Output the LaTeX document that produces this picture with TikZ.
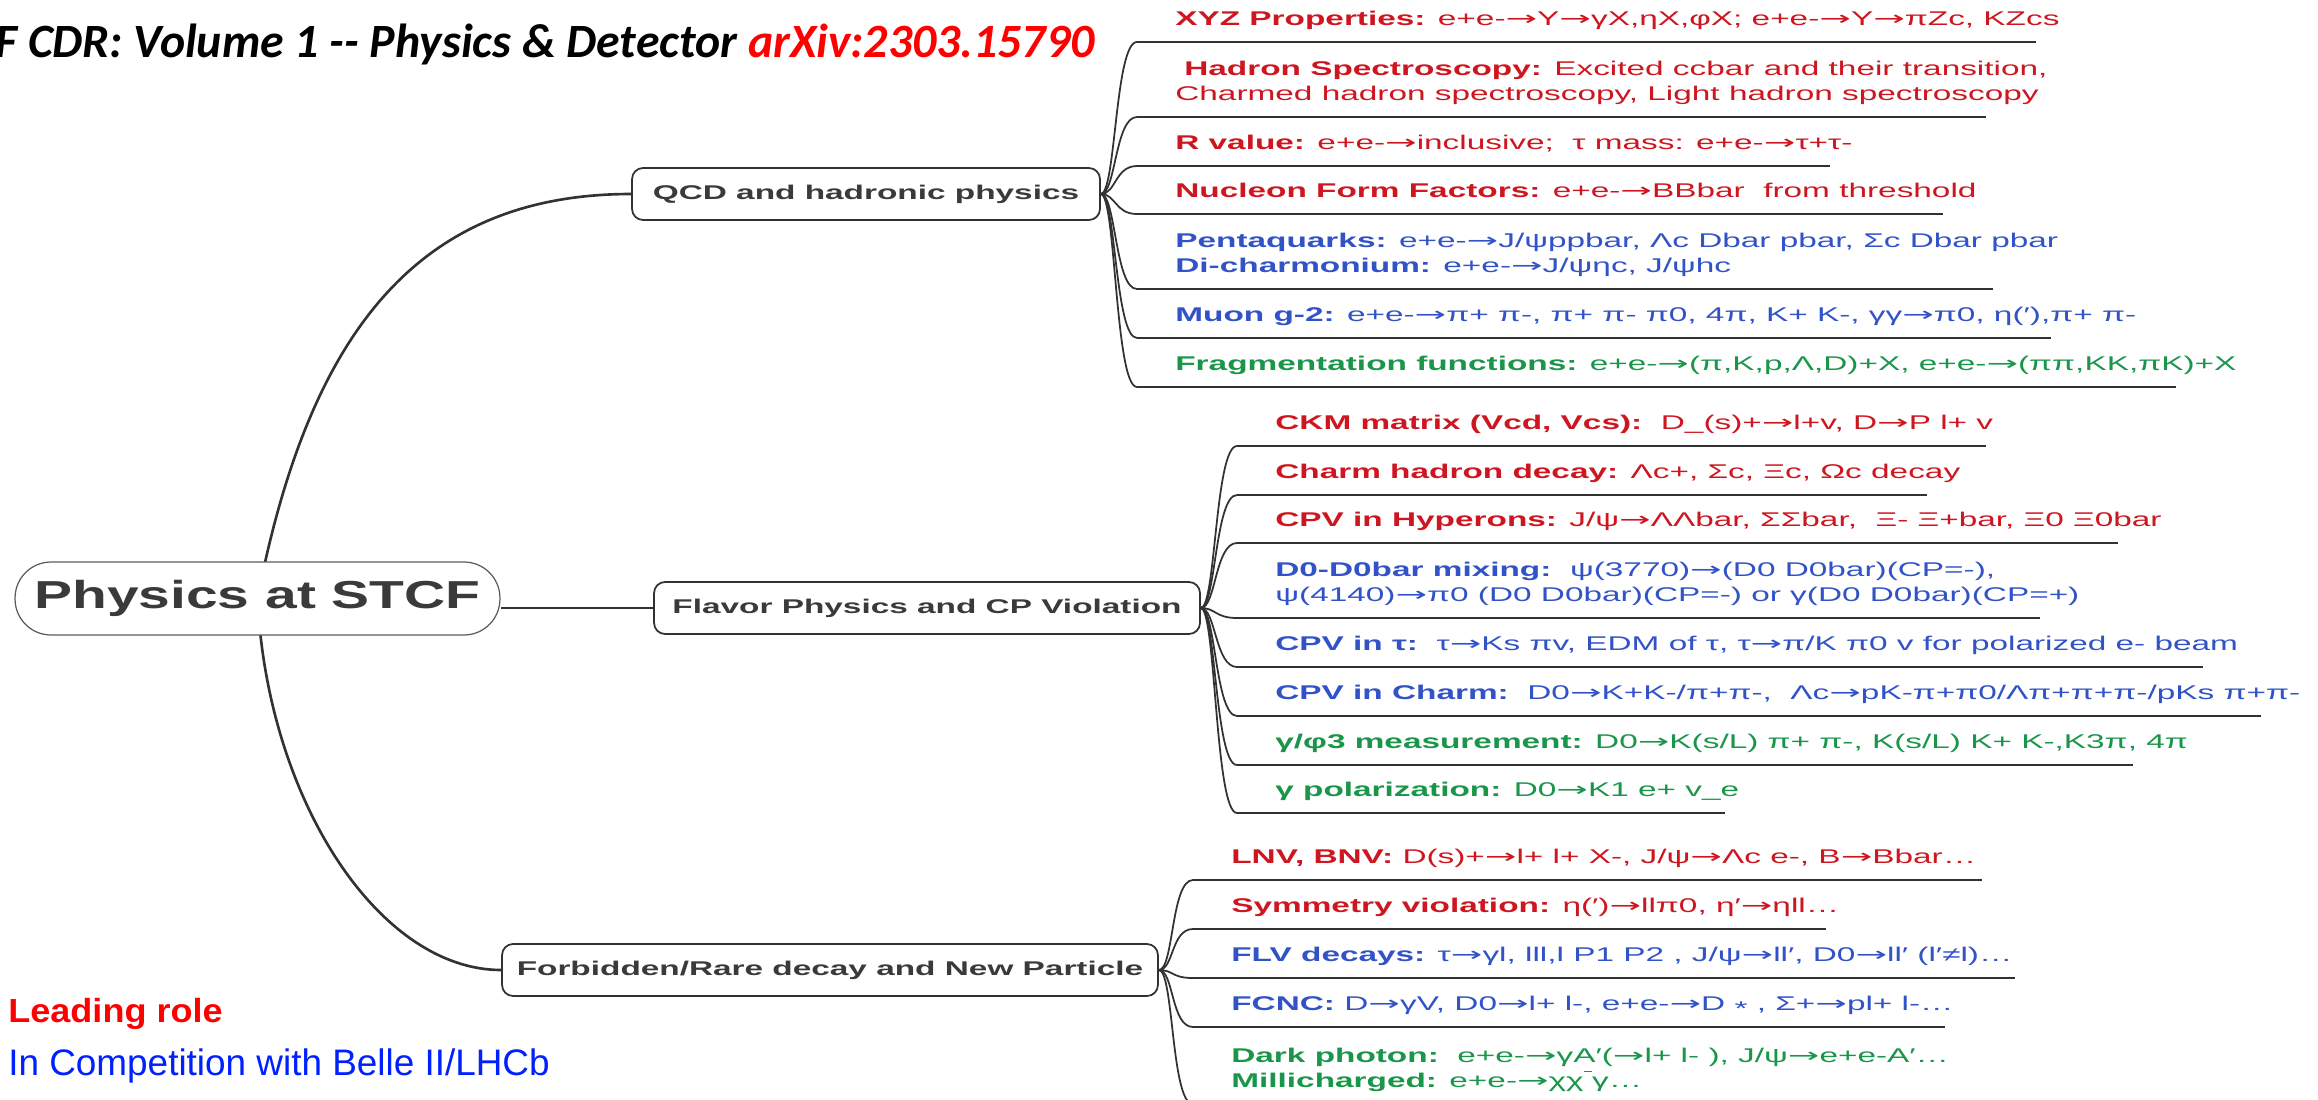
\documentclass[tikz,border=0pt]{standalone}
\usepackage{fontspec}
\usepackage{newunicodechar}
\setmainfont{Liberation Sans}
\newfontfamily\leaffont[FakeStretch=1.68]{Liberation Sans}
\newfontfamily\arrowfont[FakeStretch=1.9]{DejaVu Sans}
\newfontfamily\rootfont[FakeStretch=1.46]{Liberation Sans}
\newfontfamily\notefont[FakeStretch=1.08]{Liberation Sans}
\newfontfamily\titlefont{Carlito}
\newunicodechar{→}{{\arrowfont\char"2192\relax}}
\definecolor{leafred}{RGB}{206,22,32}
\definecolor{leafblue}{RGB}{50,82,200}
\definecolor{leafgreen}{RGB}{26,150,74}
\definecolor{linegray}{RGB}{50,50,50}
\definecolor{topicgray}{RGB}{58,58,58}
\definecolor{slidered}{RGB}{255,0,0}
\definecolor{slideblue}{RGB}{0,32,255}
\usetikzlibrary{
  calc,
  backgrounds
}
\tikzset{
  rootbox/.style={draw=linegray!80, line width=0.7pt, fill=white,
    rounded corners=0.72cm, minimum width=9.7cm, minimum height=1.46cm,
    inner sep=0pt, text=topicgray,
    font=\rootfont\bfseries\fontsize{22.2}{26}\selectfont},
  topicbox/.style={draw=linegray, line width=1pt, fill=white,
    rounded corners=0.22cm, minimum height=1.04cm,
    inner sep=0pt, text=topicgray,
    font=\leaffont\bfseries\fontsize{11.3}{14.2}\selectfont},
  leaftext/.style={anchor=south west, inner sep=0pt, text depth=0pt,
    align=left, font=\leaffont\fontsize{11.3}{14.2}\selectfont},
  stem/.style={draw=linegray, line width=1.5pt},
  twig/.style={draw=linegray, line width=1pt},
}
% leaf: name, line start x, line y, line end x, colour, text
\newcommand{\topicleaf}[6]{%
  \coordinate (#1-l) at (#2,#3);
  \coordinate (#1-r) at (#4,#3);
  \node[leaftext, text=#5] (#1) at ($(#1-l)+(38,-16)$) {#6};
  \draw[twig] (#1-l) -- (#1-r);
}

\begin{document}
\begin{tikzpicture}[x=0.02cm, y=-0.02cm]
  \useasboundingbox (0,0) rectangle (2318,1099);

  % Title and legend
  \node[anchor=base west, inner sep=0pt,
        font=\titlefont\bfseries\itshape\fontsize{27.2}{31}\selectfont] (title) at (-5,57)
    {F CDR: Volume 1 -{}- Physics \& Detector \textcolor{slidered}{arXiv:2303.15790}};
  \node[anchor=base west, inner sep=0pt, text=slidered,
        font=\notefont\bfseries\fontsize{19}{22}\selectfont] (lead) at (8,1022) {Leading role};
  \node[anchor=base west, inner sep=0pt, text=slideblue,
        font=\fontsize{21}{25}\selectfont] (compete) at (8,1075) {In Competition with Belle II/LHCb};

  % Central topic
  \node[rootbox] (root) at (257.5,598.5) {Physics at STCF};

  % Three main topics
  \node[topicbox, minimum width=9.36cm] (qcd) at (866,194) {QCD and hadronic physics};
  \node[topicbox, minimum width=10.92cm] (flavor) at (927,608) {Flavor Physics and CP Violation};
  \node[topicbox, minimum width=13.12cm] (rare) at (830,970) {Forbidden/Rare decay and New Particle};

  % QCD leaves
  \topicleaf{xyz}{1137}{42}{2036}{leafred}{\textbf{XYZ Properties:} e+e-→Y→γX,ηX,φX; e+e-→Y→πZc, KZcs}
  \topicleaf{hadron}{1137}{117}{1986}{leafred}{\hspace*{0.45em}\textbf{Hadron Spectroscopy:} Excited ccbar and their transition,\\Charmed hadron spectroscopy, Light hadron spectroscopy}
  \topicleaf{rval}{1137}{166}{1830}{leafred}{\textbf{R value:} e+e-→inclusive;\ \ τ mass: e+e-→τ+τ-}
  \topicleaf{nucleon}{1137}{214}{1943}{leafred}{\textbf{Nucleon Form Factors:} e+e-→BBbar\ \ from threshold}
  \topicleaf{penta}{1137}{289}{1993}{leafblue}{\textbf{Pentaquarks:} e+e-→J/ψppbar, Λc Dbar pbar, Σc Dbar pbar\\\textbf{Di-charmonium:} e+e-→J/ψηc, J/ψhc}
  \topicleaf{muon}{1137}{338}{2051}{leafblue}{\textbf{Muon g-2:} e+e-→π+ π-, π+ π- π0, 4π, K+ K-, γγ→π0, η(′),π+ π-}
  \topicleaf{frag}{1137}{387}{2176}{leafgreen}{\textbf{Fragmentation functions:} e+e-→(π,K,p,Λ,D)+X, e+e-→(ππ,KK,πK)+X}

  % Flavor leaves
  \topicleaf{ckm}{1237}{446}{1986}{leafred}{\textbf{CKM matrix (Vcd, Vcs):}\ \ D\_(s)+→l+v, D→P l+ v}
  \topicleaf{charm}{1237}{495}{1927}{leafred}{\textbf{Charm hadron decay:} Λc+, Σc, Ξc, Ωc decay}
  \topicleaf{hyperon}{1237}{543}{2118}{leafred}{\textbf{CPV in Hyperons:} J/ψ→ΛΛbar, ΣΣbar,\ \ Ξ- Ξ+bar, Ξ0 Ξ0bar}
  \topicleaf{mixing}{1237}{618}{2040}{leafblue}{\textbf{D0-D0bar mixing:}\ \ ψ(3770)→(D0 D0bar)(CP=-),\\ψ(4140)→π0 (D0 D0bar)(CP=-) or γ(D0 D0bar)(CP=+)}
  \topicleaf{cpvtau}{1237}{667}{2203}{leafblue}{\textbf{CPV in τ:}\ \ τ→Ks πv, EDM of τ, τ→π/K π0 v for polarized e- beam}
  \topicleaf{cpvcharm}{1237}{716}{2261}{leafblue}{\textbf{CPV in Charm:}\ \ D0→K+K-/π+π-,\ \ Λc→pK-π+π0/Λπ+π+π-/pKs π+π-}
  \topicleaf{gamma}{1237}{765}{2133}{leafgreen}{\textbf{γ/φ3 measurement:} D0→K(s/L) π+ π-, K(s/L) K+ K-,K3π, 4π}
  \topicleaf{gpol}{1237}{813}{1725}{leafgreen}{\textbf{γ polarization:} D0→K1 e+ v\_e}

  % Rare decay leaves
  \topicleaf{lnv}{1193}{880}{1982}{leafred}{\textbf{LNV, BNV:} D(s)+→l+ l+ X-, J/ψ→Λc e-, B→Bbar…}
  \topicleaf{symm}{1193}{929}{1826}{leafred}{\textbf{Symmetry violation:} η(′)→llπ0, η′→ηll…}
  \topicleaf{flv}{1193}{978}{2015}{leafblue}{\textbf{FLV decays:} τ→γl, lll,l P1 P2 , J/ψ→ll′, D0→ll′ (l′≠l)…}
  \topicleaf{fcnc}{1193}{1027}{1945}{leafblue}{\textbf{FCNC:} D→γV, D0→l+ l-, e+e-→D \raisebox{-0.25em}{*} , Σ+→pl+ l-…}
  \topicleaf{dark}{1193}{1104}{1953}{leafgreen}{\textbf{Dark photon:}\ \ e+e-→γA′(→l+ l- ), J/ψ→e+e-A′…\\\textbf{Millicharged:} e+e-→χχ\raisebox{0.78em}{\rule{0.42em}{0.06em}}γ…}

  % Connectors
  \begin{scope}[on background layer]
    \draw[stem] (root.center) .. controls +(52,-268) and +(-212,0) .. (qcd.west);
    \draw[stem] (root.center) .. controls +(10,202) and +(-122,0) .. (rare.west);
    \draw[stem] (flavor.west) -- (flavor.west -| root.east);
    \foreach \leafname in {xyz,hadron,rval,nucleon,penta,muon,frag}
      \draw[twig] (qcd.east) .. controls +(15,0) and +(-22,0) .. (\leafname-l);
    \foreach \leafname in {ckm,charm,hyperon,mixing,cpvtau,cpvcharm,gamma,gpol}
      \draw[twig] (flavor.east) .. controls +(15,0) and +(-22,0) .. (\leafname-l);
    \foreach \leafname in {lnv,symm,flv,fcnc,dark}
      \draw[twig] (rare.east) .. controls +(15,0) and +(-22,0) .. (\leafname-l);
  \end{scope}
\end{tikzpicture}
\end{document}
